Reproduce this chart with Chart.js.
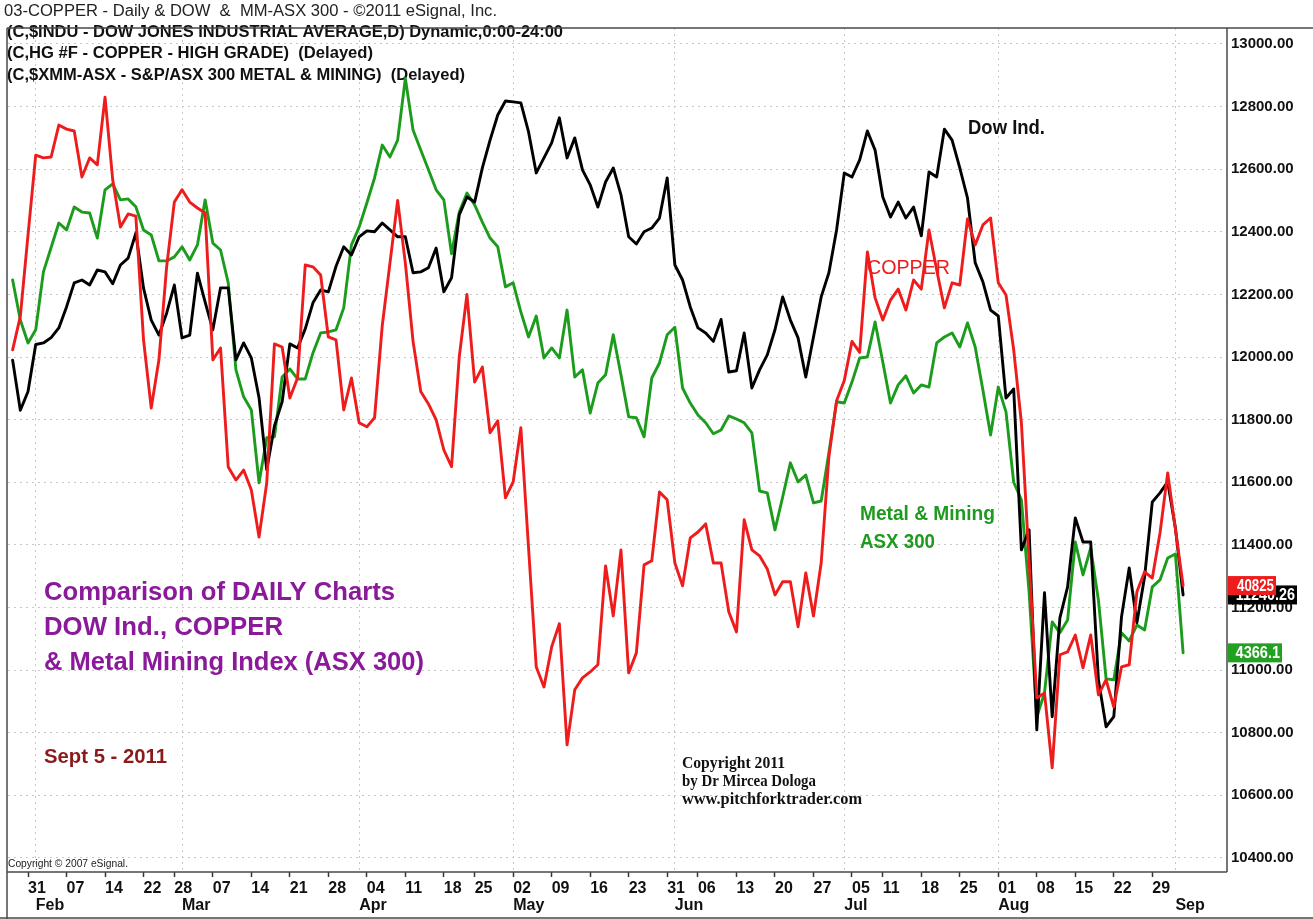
<!DOCTYPE html>
<html>
<head>
<meta charset="utf-8">
<title>Copper, Dow and ASX 300 Metal &amp; Mining - daily 2011</title>
<script src="https://cdn.jsdelivr.net/npm/chart.js@4.4.1/dist/chart.umd.min.js"></script>
<style>
  html, body { margin: 0; padding: 0; background: #fff; }
  #wrap { width: 1313px; height: 919px; }
</style>
</head>
<body>
<div id="wrap"><canvas id="chart" width="1313" height="919"></canvas></div>
<script>
// trading calendar (US session, the chart follows the Dow)
const firstDay = '2011-01-27';
const lastDay = '2011-09-02';
const holidays = ['2011-02-21', '2011-04-22', '2011-05-30', '2011-07-04'];
const monthNames = ['Jan', 'Feb', 'Mar', 'Apr', 'May', 'Jun', 'Jul', 'Aug', 'Sep', 'Oct', 'Nov', 'Dec'];

// right axis (Dow points)
const yTicks = [10400, 10600, 10800, 11000, 11200, 11400, 11600, 11800, 12000, 12200, 12400, 12600, 12800, 13000];

// all three series drawn on the Dow scale, one value per trading day
const dowValues = [
  11990, 11830, 11890, 12040, 12045, 12062, 12093, 12160, 12237, 12246,
  12230, 12278, 12272, 12234, 12294, 12316, 12396, 12220, 12118, 12070,
  12140, 12230, 12061, 12070, 12268, 12175, 12087, 12221, 12221, 11991,
  12045, 11997, 11870, 11640, 11780, 11857, 12042, 12029, 12090, 12173,
  12214, 12208, 12290, 12352, 12326, 12384, 12403, 12400, 12428, 12406,
  12384, 12384, 12269, 12272, 12285, 12348, 12208, 12253, 12454, 12511,
  12495, 12604, 12693, 12773, 12818, 12815, 12812, 12719, 12588, 12636,
  12684, 12764, 12636, 12700, 12598, 12550, 12479, 12559, 12604, 12518,
  12384, 12361, 12400, 12412, 12444, 12572, 12294, 12246, 12160, 12093,
  12077, 12050, 12120, 11952, 11956, 12077, 11901, 11959, 12007, 12087,
  12192, 12118, 12061, 11936, 12064, 12192, 12269, 12406, 12588, 12575,
  12630, 12722, 12661, 12511, 12447, 12495, 12444, 12479, 12387, 12591,
  12575, 12728, 12693, 12604, 12508, 12301, 12240, 12150, 12131, 11869,
  11898, 11384, 11448, 10809, 11247, 10851, 11167, 11266, 11486, 11409,
  11409, 10969, 10819, 10851, 11170, 11326, 11151, 11298, 11537, 11566,
  11601, 11454, 11240
];
const copperValues = [
  12023, 12130, 12390, 12645, 12636, 12639, 12741, 12728, 12722, 12575,
  12636, 12614, 12830, 12566, 12415, 12457, 12450, 12055, 11837, 11991,
  12288, 12495, 12534, 12495, 12476, 12460, 11991, 12029, 11649, 11607,
  11639, 11575, 11425, 11598, 12042, 12032, 11869, 11933, 12294, 12288,
  12262, 12064, 12055, 11831, 11933, 11790, 11777, 11806, 12100, 12300,
  12500, 12300, 12050, 11890, 11850, 11799, 11703, 11650, 12000, 12200,
  11920, 11968, 11758, 11796, 11550, 11601, 11774, 11390, 11010, 10946,
  11074, 11148, 10761, 10937, 10975, 10994, 11017, 11333, 11173, 11384,
  10991, 11055, 11336, 11349, 11569, 11544, 11342, 11269, 11422, 11441,
  11467, 11342, 11342, 11186, 11122, 11480, 11384, 11365, 11323, 11240,
  11282, 11282, 11138, 11310, 11173, 11342, 11681, 11860, 11925, 12050,
  12015, 12336, 12189, 12118, 12182, 12217, 12150, 12246, 12217, 12406,
  12278, 12157, 12237, 12230, 12441, 12358, 12422, 12444, 12237, 12198,
  12023, 11790, 11350, 10911, 10927, 10688, 11049, 11058, 11112, 11007,
  11112, 10921, 10969, 10882, 11010, 11017, 11250, 11314, 11294, 11438,
  11630, 11450, 11270
];
const asxValues = [
  12246, 12118, 12045, 12087, 12272, 12350, 12428, 12406, 12479, 12463,
  12460, 12380, 12534, 12553, 12502, 12505, 12480, 12406, 12390, 12307,
  12307, 12320, 12352, 12310, 12358, 12502, 12364, 12342, 12237, 11959,
  11873, 11831, 11598, 11742, 11745, 11936, 11962, 11930, 11930, 12013,
  12077, 12080, 12087, 12157, 12358, 12415, 12492, 12572, 12677, 12639,
  12693, 12890, 12725, 12661, 12598, 12534, 12502, 12330, 12463, 12524,
  12486, 12431, 12380, 12352, 12224, 12237, 12144, 12064, 12131, 11997,
  12029, 11997, 12150, 11936, 11959, 11821, 11917, 11943, 12071, 11943,
  11809, 11806, 11745, 11933, 11981, 12071, 12095, 11901, 11853, 11815,
  11790, 11755, 11767, 11812, 11802, 11790, 11758, 11572, 11566, 11448,
  11553, 11662, 11601, 11623, 11534, 11540, 11694, 11857, 11853, 11920,
  11997, 12000, 12112, 11984, 11853, 11911, 11940, 11885, 11911, 11904,
  12045, 12064, 12077, 12032, 12109, 12032, 11895, 11751, 11904, 11825,
  11600, 11544, 11250, 10851, 10927, 11154, 11119, 11160, 11409, 11304,
  11390, 11224, 10972, 10969, 11119, 11093, 11144, 11128, 11266, 11288,
  11358, 11371, 11055
];

// last-price flags on the right axis (each in its own instrument's units)
const dowLast = '11240.26';
const copperLast = '40825';
const asxLast = '4366.1';

const tickFont = "'Liberation Sans', Arial, sans-serif";
const ctx = document.getElementById('chart').getContext('2d');

function buildTradingDays(start, end, skip) {
  const days = [];
  const d = new Date(start + 'T00:00:00Z');
  const stop = new Date(end + 'T00:00:00Z');
  while (d <= stop) {
    const iso = d.toISOString().slice(0, 10);
    const wd = d.getUTCDay();
    if (wd !== 0 && wd !== 6 && !skip.includes(iso)) days.push(iso);
    d.setUTCDate(d.getUTCDate() + 1);
  }
  return days;
}

const tradingDays = buildTradingDays(firstDay, lastDay, holidays);
const weekday = iso => new Date(iso + 'T00:00:00Z').getUTCDay();
const weekStarts = [];
const monthStarts = [];
tradingDays.forEach((day, i) => {
  if (i === 0) return;
  if (weekday(day) < weekday(tradingDays[i - 1])) weekStarts.push(i);
  if (day.slice(5, 7) !== tradingDays[i - 1].slice(5, 7)) monthStarts.push(i);
});

function toPoints(values) {
  return values.map((v, i) => ({ x: i, y: v }));
}

// draws a line of text squeezed/stretched to a given width (the source text is condensed)
function fitText(c, txt, x, y, font, color, width) {
  c.save();
  c.font = font;
  c.fillStyle = color;
  c.textBaseline = 'middle';
  const w = c.measureText(txt).width;
  c.translate(x, y);
  c.scale(width / w, 1);
  c.fillText(txt, 0, 0);
  c.restore();
}

const headerPlugin = {
  id: 'header',
  beforeDatasetsDraw(chart) {
    const c = chart.ctx;
    fitText(c, '03-COPPER - Daily & DOW  &  MM-ASX 300 - \u00A92011 eSignal, Inc.', 4, 12,
      '16px "Liberation Sans", Arial', '#222', 493);
    fitText(c, '(C,$INDU - DOW JONES INDUSTRIAL AVERAGE,D) Dynamic,0:00-24:00', 7, 33,
      'bold 16px "Liberation Sans", Arial', '#111', 556);
    fitText(c, '(C,HG #F - COPPER - HIGH GRADE)  (Delayed)', 7, 54,
      'bold 16px "Liberation Sans", Arial', '#111', 366);
    fitText(c, '(C,$XMM-ASX - S&P/ASX 300 METAL & MINING)  (Delayed)', 7, 76,
      'bold 16px "Liberation Sans", Arial', '#111', 458);
    fitText(c, 'Copyright \u00A9 2007 eSignal.', 8, 864,
      '11px "Liberation Sans", Arial', '#222', 120);
  }
};

const notesPlugin = {
  id: 'notes',
  afterDatasetsDraw(chart) {
    const c = chart.ctx;
    const sans = '"Liberation Sans", Arial, sans-serif';
    fitText(c, 'Dow Ind.', 968, 128, 'bold 20px ' + sans, '#111', 77);
    fitText(c, 'COPPER', 867, 268, '20px ' + sans, '#ee1c1c', 83);
    fitText(c, 'Metal & Mining', 860, 514, 'bold 20px ' + sans, '#1e9a1e', 135);
    fitText(c, 'ASX 300', 860, 542, 'bold 20px ' + sans, '#1e9a1e', 75);
    fitText(c, 'Comparison of DAILY Charts', 44, 593, 'bold 26px ' + sans, '#8a1a9a', 351);
    fitText(c, 'DOW Ind., COPPER', 44, 628, 'bold 26px ' + sans, '#8a1a9a', 239);
    fitText(c, '& Metal Mining Index (ASX 300)', 44, 663, 'bold 26px ' + sans, '#8a1a9a', 380);
    fitText(c, 'Sept 5 - 2011', 44, 757, 'bold 20px ' + sans, '#8b1a1a', 123);
    const serif = '"Liberation Serif", "Times New Roman", serif';
    fitText(c, 'Copyright 2011', 682, 764, 'bold 16px ' + serif, '#111', 103);
    fitText(c, 'by Dr Mircea Dologa', 682, 782, 'bold 16px ' + serif, '#111', 134);
    fitText(c, 'www.pitchforktrader.com', 682, 800, 'bold 16px ' + serif, '#111', 180);
  }
};

const framePlugin = {
  id: 'frame',
  afterDraw(chart) {
    const c = chart.ctx;
    const a = chart.chartArea;
    c.save();
    c.strokeStyle = '#4a4a4a';
    c.lineWidth = 1.5;
    c.beginPath();
    c.moveTo(a.left - 1, a.top); c.lineTo(chart.width, a.top);
    c.moveTo(a.left - 1, a.top); c.lineTo(a.left - 1, chart.height);
    c.moveTo(a.right, a.top); c.lineTo(a.right, a.bottom);
    c.moveTo(a.left - 1, a.bottom); c.lineTo(a.right, a.bottom);
    c.moveTo(0, chart.height - 1); c.lineTo(chart.width, chart.height - 1);
    c.stroke();
    c.restore();
  }
};

// coloured last-value flags, placed at the last point of each line
const flagsPlugin = {
  id: 'flags',
  afterDraw(chart) {
    const c = chart.ctx;
    const x0 = chart.chartArea.right + 1;
    const flags = [
      { ds: 1, text: dowLast, bg: '#000', w: 69 },
      { ds: 0, text: copperLast, bg: '#ee1c1c', w: 48 },
      { ds: 2, text: asxLast, bg: '#22a022', w: 54 }
    ];
    flags.forEach(f => {
      const pts = chart.getDatasetMeta(f.ds).data;
      const y = pts[pts.length - 1].y;
      c.fillStyle = f.bg;
      c.fillRect(x0, y - 9.5, f.w, 19);
      const tw = f.text.length * 7.4;
      fitText(c, f.text, x0 + f.w - 2 - tw, y + 1, 'bold 16px ' + tickFont, '#fff', tw);
    });
  }
};

const lineStyle = { borderWidth: 2.9, pointRadius: 0, borderJoinStyle: 'round', borderCapStyle: 'round' };

new Chart(ctx, {
  type: 'line',
  data: {
    datasets: [
      { label: 'COPPER - HIGH GRADE', data: toPoints(copperValues), borderColor: '#ee1c1c', order: 0, ...lineStyle },
      { label: 'DOW JONES INDUSTRIAL AVERAGE', data: toPoints(dowValues), borderColor: '#000000', order: 1, ...lineStyle },
      { label: 'S&P/ASX 300 METAL & MINING', data: toPoints(asxValues), borderColor: '#1c9c1c', order: 2, ...lineStyle }
    ]
  },
  options: {
    responsive: false,
    animation: false,
    layout: { padding: { top: 28, left: 8, right: 0, bottom: 0 } },
    plugins: {
      legend: { display: false },
      tooltip: { enabled: false }
    },
    scales: {
      x: {
        type: 'linear',
        position: 'bottom',
        weight: 0,
        min: -0.6,
        max: 157.7,
        afterBuildTicks: s => { s.ticks = weekStarts.map(i => ({ value: i })); },
        afterFit: s => { s.height = 22; },
        ticks: {
          autoSkip: false,
          maxRotation: 0,
          align: 'start',
          padding: 2,
          color: '#111',
          font: { family: tickFont, size: 16, weight: 'bold' },
          callback: v => tradingDays[v] ? tradingDays[v].slice(8) : ''
        },
        grid: { drawOnChartArea: false, drawTicks: true, tickLength: 5, tickColor: '#333', tickWidth: 1.5 },
        border: { display: false }
      },
      x2: {
        type: 'linear',
        position: 'bottom',
        weight: 1,
        min: -0.6,
        max: 157.7,
        afterBuildTicks: s => { s.ticks = monthStarts.map(i => ({ value: i })); },
        afterFit: s => { s.height = 25; },
        ticks: {
          autoSkip: false,
          maxRotation: 0,
          align: 'start',
          padding: 2,
          color: '#111',
          font: { family: tickFont, size: 16, weight: 'bold' },
          callback: v => tradingDays[v] ? monthNames[+tradingDays[v].slice(5, 7) - 1] : ''
        },
        grid: { drawOnChartArea: true, drawTicks: false, color: '#c8c8c8', lineWidth: 1 },
        border: { display: false, dash: [2, 4] }
      },
      y: {
        position: 'right',
        min: 10355,
        max: 13051,
        afterBuildTicks: s => { s.ticks = yTicks.map(v => ({ value: v })); },
        afterFit: s => { s.width = 86; },
        ticks: {
          padding: 4,
          color: '#111',
          font: { family: tickFont, size: 15, weight: 'bold' },
          callback: v => v.toFixed(2)
        },
        grid: { color: '#c8c8c8', lineWidth: 1, drawTicks: false },
        border: { display: false, dash: [2, 4] }
      }
    }
  },
  plugins: [headerPlugin, notesPlugin, framePlugin, flagsPlugin]
});
</script>
</body>
</html>
